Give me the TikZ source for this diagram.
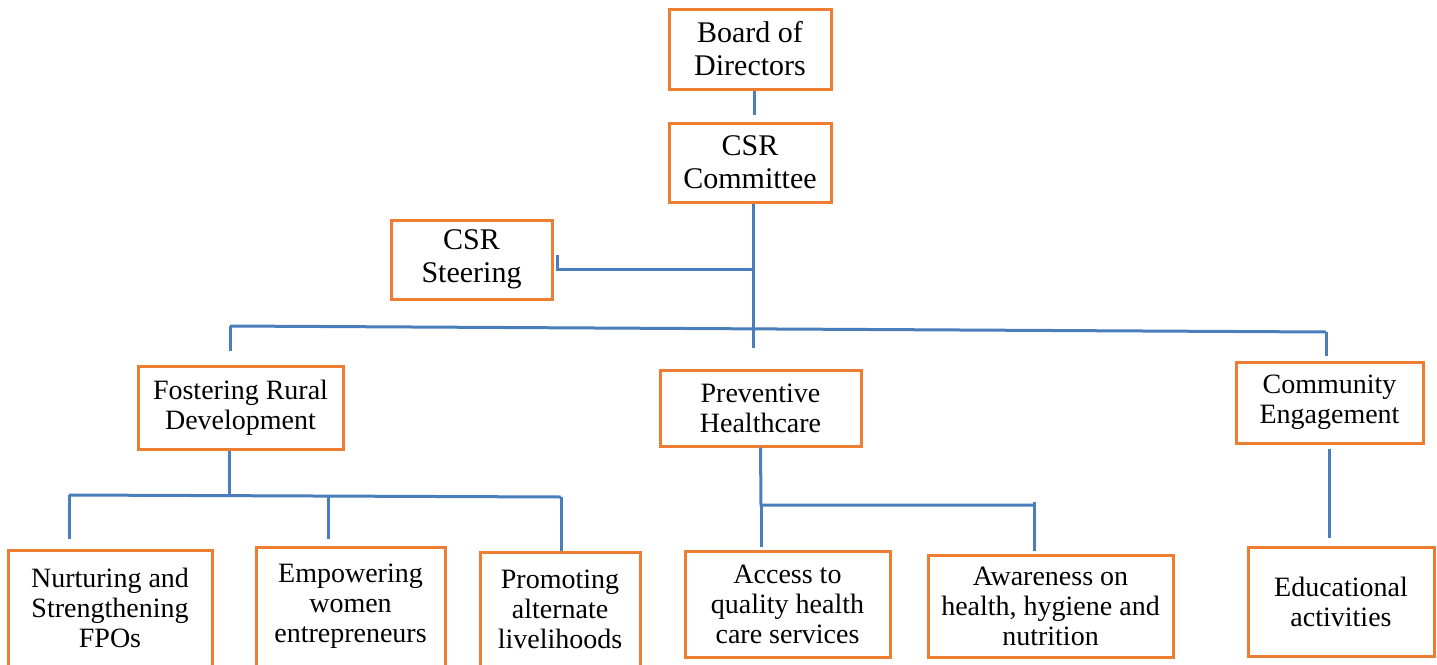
\documentclass[tikz,border=0pt]{standalone}
\usepackage{fontspec}
\setmainfont{Liberation Serif}
\usetikzlibrary{calc}
\definecolor{boxor}{HTML}{ED7D31}
\definecolor{lineblue}{HTML}{4A7EBB}
\tikzset{
  box/.style={draw=boxor, line width=3pt, rectangle, align=center, inner sep=0pt,
              font=\fontsize{28}{30}\selectfont},
  topbox/.style={box, font=\fontsize{30}{33}\selectfont},
  conn/.style={draw=lineblue, line width=3pt}
}
\begin{document}
\begin{tikzpicture}[x=1pt,y=-1pt]
\useasboundingbox (0,0) rectangle (1437,664);
% boxes
\node[topbox, minimum width=162pt, minimum height=80pt] (board) at (750,49) {Board of\\Directors};
\node[topbox, minimum width=162pt, minimum height=79pt] (comm) at (750,162.5) {CSR\\Committee};
\node[topbox, minimum width=161pt, minimum height=79pt] (steer) at (471.5,259.5) {CSR\\Steering};
\node[box, minimum width=205pt, minimum height=83pt] (frd) at (240.5,407.5) {Fostering Rural\\Development};
\node[box, minimum width=201pt, minimum height=76pt] (ph) at (760.5,408) {Preventive\\Healthcare};
\node[box, minimum width=187pt, minimum height=81pt] (ce) at (1329.5,402.5) {Community\\Engagement};
\node[box, minimum width=204pt, minimum height=116pt] (nurt) at (110,608) {Nurturing and\\Strengthening\\FPOs};
\node[box, minimum width=189pt, minimum height=119pt] (emp) at (350.5,606.5) {Empowering\\women\\entrepreneurs};
\node[box, minimum width=160pt, minimum height=114pt] (prom) at (560,609) {Promoting\\alternate\\livelihoods};
\node[box, minimum width=205pt, minimum height=106pt] (acc) at (787.5,604) {Access to\\quality health\\care services};
\node[box, minimum width=245pt, minimum height=102pt] (aw) at (1050.5,606) {Awareness on\\health, hygiene and\\nutrition};
\node[box, minimum width=186pt, minimum height=109pt] (edu) at (1341,601.5) {Educational\\activities};
% junction coordinates
\coordinate (j1) at (753,269);
\coordinate (bl) at (230,326);
\coordinate (bm) at (753,329);
\coordinate (br) at (1326,332);
\coordinate (s0) at ($(steer.east)+(4,-4.5)$);
\coordinate (fj) at (229,496);
\coordinate (fl) at (69,495);
\coordinate (fm) at (328,496);
\coordinate (fr) at (561,497);
\coordinate (pj) at (761,505);
\coordinate (pr) at (1034,505);
% connectors
\draw[conn] ($(board.south)+(4,0)$) -- ($(comm.north)+(4,-7)$);
\draw[conn] ($(comm.south)+(3,0)$) -- (bm) -- ($(ph.north)+(-7.5,-21)$);
\draw[conn] (s0) |- (j1);
\draw[conn] (bl) -- (br);
\draw[conn] (bl) -- ($(frd.north)+(-10.5,-14)$);
\draw[conn] (br) -- ($(ce.north)+(-3.5,-5)$);
\draw[conn] ($(frd.south)+(-11.5,0)$) -- (fj);
\draw[conn] (fl) -- (fr);
\draw[conn] (fl) -- ($(nurt.north)+(-41,-10)$);
\draw[conn] (fm) -- ($(emp.north)+(-22.5,-7)$);
\draw[conn] (fr) -- ($(prom.north)+(1,0)$);
\draw[conn] (ph.south) -- (pj) -- (pr);
\draw[conn] (pj) -- ($(acc.north)+(-26.5,-3)$);
\draw[conn] ($(pr)+(0,-3)$) -- ($(aw.north)+(-16.5,-3)$);
\draw[conn] ($(ce.south)+(-0.5,4)$) -- ($(edu.north)+(-12,-8)$);
\end{tikzpicture}
\end{document}
